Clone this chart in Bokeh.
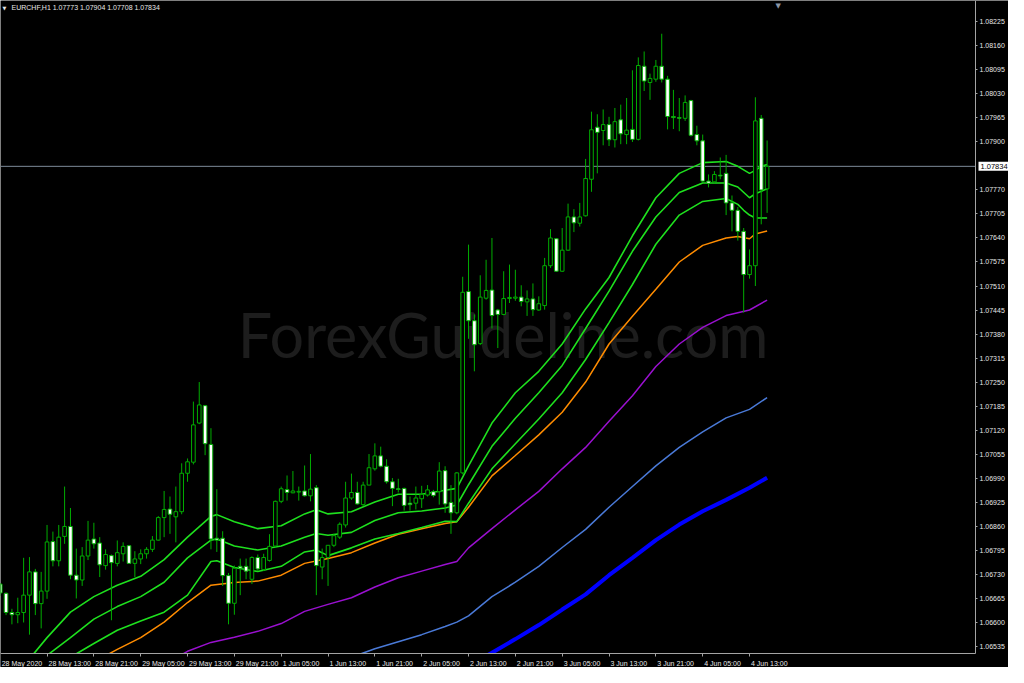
from bokeh.plotting import figure
from bokeh.models import (Range1d, FixedTicker, PrintfTickFormatter, Label, ColumnDataSource,
                          LinearAxis, BoxAnnotation)
from bokeh.embed import file_html
from bokeh.resources import INLINE

# ---------------- data (EURCHF, H1) ----------------
symbol = "EURCHF,H1"
bars = list(range(132))
opens = [1.06703, 1.06678, 1.06626, 1.06620, 1.06626, 1.06673, 1.06736, 1.06650, 1.06684, 1.06818,
         1.06766, 1.06832, 1.06859, 1.06727, 1.06714, 1.06779, 1.06825, 1.06814, 1.06753, 1.06780,
         1.06759, 1.06785, 1.06807, 1.06759, 1.06771, 1.06785, 1.06797, 1.06822, 1.06883, 1.06906,
         1.06885, 1.06899, 1.07003, 1.07033, 1.07139, 1.07186, 1.07081, 1.06827, 1.06827, 1.06726,
         1.06651, 1.06751, 1.06751, 1.06716, 1.06775, 1.06742, 1.06767, 1.06806, 1.06927, 1.06959,
         1.06950, 1.06952, 1.06955, 1.06942, 1.06964, 1.06749, 1.06775, 1.06808, 1.06830, 1.06863,
         1.06936, 1.06951, 1.06918, 1.06971, 1.07015, 1.07050, 1.07022, 1.06980, 1.06961, 1.06962,
         1.06922, 1.06922, 1.06934, 1.06944, 1.06953, 1.06953, 1.07010, 1.06924, 1.06896, 1.07004,
         1.07495, 1.07416, 1.07354, 1.07477, 1.07499, 1.07445, 1.07433, 1.07476, 1.07477, 1.07480,
         1.07467, 1.07475, 1.07445, 1.07457, 1.07565, 1.07638, 1.07550, 1.07607, 1.07697, 1.07680,
         1.07700, 1.07799, 1.07940, 1.07931, 1.07947, 1.07906, 1.07960, 1.07920, 1.07934, 1.07907,
         1.08105, 1.08061, 1.08070, 1.08105, 1.08070, 1.07969, 1.07966, 1.07964, 1.08012, 1.07920,
         1.07903, 1.07794, 1.07792, 1.07810, 1.07815, 1.07735, 1.07715, 1.07658, 1.07541, 1.07565,
         1.07964, 1.07773]
highs = [1.06706, 1.06680, 1.06636, 1.06666, 1.06774, 1.06776, 1.06744, 1.06736, 1.06863, 1.06845,
         1.06863, 1.06967, 1.06909, 1.06799, 1.06803, 1.06874, 1.06869, 1.06830, 1.06797, 1.06783,
         1.06821, 1.06816, 1.06809, 1.06792, 1.06797, 1.06803, 1.06833, 1.06887, 1.06955, 1.06940,
         1.06967, 1.07030, 1.07043, 1.07197, 1.07250, 1.07188, 1.07125, 1.06960, 1.06846, 1.06733,
         1.06753, 1.06772, 1.06772, 1.06778, 1.06783, 1.06785, 1.06838, 1.06929, 1.06967, 1.06997,
         1.07009, 1.06967, 1.07024, 1.07055, 1.06971, 1.06799, 1.06808, 1.06839, 1.06870, 1.06980,
         1.07002, 1.06980, 1.06980, 1.07055, 1.07084, 1.07075, 1.07041, 1.06990, 1.06988, 1.06964,
         1.06940, 1.06967, 1.06969, 1.06971, 1.06958, 1.07033, 1.07022, 1.06971, 1.07006, 1.07535,
         1.07622, 1.07433, 1.07539, 1.07581, 1.07640, 1.07448, 1.07550, 1.07568, 1.07554, 1.07512,
         1.07498, 1.07517, 1.07482, 1.07586, 1.07664, 1.07640, 1.07667, 1.07733, 1.07718, 1.07735,
         1.07854, 1.07982, 1.07975, 1.07988, 1.07968, 1.07992, 1.08001, 1.08019, 1.08094, 1.08129,
         1.08145, 1.08085, 1.08122, 1.08193, 1.08079, 1.08041, 1.08019, 1.08026, 1.08014, 1.07944,
         1.07920, 1.07812, 1.07821, 1.07858, 1.07865, 1.07755, 1.07724, 1.07667, 1.07609, 1.08021,
         1.07973, 1.07904]
lows = [1.06671, 1.06619, 1.06594, 1.06597, 1.06599, 1.06566, 1.06619, 1.06583, 1.06663, 1.06751,
        1.06751, 1.06812, 1.06716, 1.06664, 1.06698, 1.06768, 1.06799, 1.06722, 1.06742, 1.06605,
        1.06751, 1.06764, 1.06759, 1.06722, 1.06757, 1.06772, 1.06790, 1.06821, 1.06830, 1.06839,
        1.06816, 1.06892, 1.06980, 1.07027, 1.07136, 1.07052, 1.06797, 1.06790, 1.06698, 1.06594,
        1.06620, 1.06673, 1.06716, 1.06703, 1.06738, 1.06738, 1.06764, 1.06803, 1.06922, 1.06929,
        1.06949, 1.06929, 1.06940, 1.06927, 1.06673, 1.06716, 1.06698, 1.06803, 1.06825, 1.06856,
        1.06931, 1.06918, 1.06914, 1.06971, 1.07010, 1.07019, 1.06975, 1.06914, 1.06951, 1.06902,
        1.06902, 1.06905, 1.06909, 1.06940, 1.06938, 1.06918, 1.06896, 1.06839, 1.06892, 1.07000,
        1.07367, 1.07279, 1.07350, 1.07473, 1.07395, 1.07342, 1.07431, 1.07464, 1.07470, 1.07455,
        1.07429, 1.07429, 1.07443, 1.07446, 1.07559, 1.07548, 1.07548, 1.07605, 1.07656, 1.07671,
        1.07698, 1.07765, 1.07815, 1.07891, 1.07889, 1.07885, 1.07894, 1.07894, 1.07900, 1.07904,
        1.08038, 1.08014, 1.08063, 1.08061, 1.07934, 1.07935, 1.07929, 1.07957, 1.07915, 1.07891,
        1.07792, 1.07777, 1.07788, 1.07799, 1.07702, 1.07658, 1.07633, 1.07438, 1.07530, 1.07510,
        1.07677, 1.07708]
closes = [1.06679, 1.06626, 1.06620, 1.06626, 1.06673, 1.06736, 1.06650, 1.06684, 1.06817, 1.06766,
          1.06830, 1.06859, 1.06727, 1.06714, 1.06779, 1.06822, 1.06812, 1.06755, 1.06783, 1.06761,
          1.06788, 1.06805, 1.06759, 1.06771, 1.06785, 1.06797, 1.06822, 1.06883, 1.06905, 1.06892,
          1.06899, 1.07003, 1.07034, 1.07134, 1.07188, 1.07083, 1.06825, 1.06822, 1.06726, 1.06651,
          1.06746, 1.06746, 1.06738, 1.06775, 1.06744, 1.06775, 1.06805, 1.06927, 1.06961, 1.06951,
          1.06955, 1.06954, 1.06942, 1.06960, 1.06753, 1.06775, 1.06808, 1.06834, 1.06865, 1.06936,
          1.06951, 1.06920, 1.06971, 1.07018, 1.07050, 1.07022, 1.06980, 1.06962, 1.06959, 1.06916,
          1.06918, 1.06936, 1.06946, 1.06958, 1.06943, 1.07009, 1.06920, 1.06896, 1.07004, 1.07493,
          1.07416, 1.07351, 1.07480, 1.07498, 1.07430, 1.07433, 1.07476, 1.07479, 1.07480, 1.07468,
          1.07475, 1.07446, 1.07462, 1.07565, 1.07640, 1.07550, 1.07607, 1.07697, 1.07681, 1.07697,
          1.07801, 1.07933, 1.07926, 1.07947, 1.07906, 1.07955, 1.07922, 1.07932, 1.07907, 1.08107,
          1.08065, 1.08072, 1.08105, 1.08070, 1.07969, 1.07966, 1.07964, 1.08007, 1.07918, 1.07903,
          1.07794, 1.07788, 1.07812, 1.07808, 1.07735, 1.07715, 1.07658, 1.07541, 1.07565, 1.07957,
          1.07770, 1.07834]

# moving-average lines (bar index, price)
ma1_idx = [4, 8, 12, 16, 20, 24, 28, 32, 36, 37, 40, 44, 48, 52, 54, 56, 60, 64, 68, 72, 76, 78, 80,
           84, 88, 92, 96, 100, 104, 108, 112, 116, 120, 124, 126, 128, 129, 130, 131]
ma1_val = [1.06481, 1.06558, 1.06627, 1.06669, 1.06700, 1.06724, 1.06769, 1.06830, 1.06886, 1.06891,
           1.06872, 1.06853, 1.06861, 1.06893, 1.06904, 1.06893, 1.06899, 1.06925, 1.06946, 1.06946,
           1.06957, 1.06962, 1.07023, 1.07139, 1.07221, 1.07279, 1.07353, 1.07448, 1.07533, 1.07646,
           1.07749, 1.07815, 1.07844, 1.07847, 1.07834, 1.07815, 1.07823, 1.07834, 1.07839]
ma2_idx = [4, 8, 12, 16, 20, 24, 28, 32, 36, 37, 40, 44, 48, 52, 54, 56, 60, 64, 68, 72, 76, 78, 80,
           84, 88, 92, 96, 100, 104, 108, 112, 116, 120, 124, 126, 128, 129, 131]
ma2_val = [1.06460, 1.06510, 1.06558, 1.06608, 1.06642, 1.06669, 1.06708, 1.06774, 1.06822, 1.06825,
           1.06806, 1.06795, 1.06806, 1.06830, 1.06840, 1.06835, 1.06843, 1.06875, 1.06896, 1.06901,
           1.06909, 1.06917, 1.06972, 1.07076, 1.07152, 1.07221, 1.07295, 1.07395, 1.07496, 1.07604,
           1.07697, 1.07763, 1.07789, 1.07789, 1.07778, 1.07749, 1.07760, 1.07773]
ma3_idx = [8, 12, 16, 20, 24, 28, 32, 36, 37, 40, 44, 48, 52, 54, 56, 60, 64, 68, 72, 76, 78, 80,
           84, 88, 92, 96, 100, 104, 108, 112, 116, 120, 124, 126, 127, 128, 129, 131]
ma3_val = [1.06468, 1.06505, 1.06542, 1.06578, 1.06603, 1.06627, 1.06673, 1.06764, 1.06766, 1.06748,
           1.06737, 1.06751, 1.06790, 1.06795, 1.06780, 1.06801, 1.06825, 1.06840, 1.06856, 1.06873,
           1.06872, 1.06922, 1.07015, 1.07083, 1.07150, 1.07221, 1.07311, 1.07411, 1.07514, 1.07623,
           1.07702, 1.07739, 1.07747, 1.07731, 1.07715, 1.07702, 1.07694, 1.07694]
ma4_idx = [16, 20, 24, 28, 32, 36, 40, 44, 48, 52, 56, 60, 64, 68, 72, 76, 78, 80, 84, 88, 92, 96,
           100, 104, 108, 112, 116, 120, 124, 126, 128, 129, 131]
ma4_val = [1.06492, 1.06526, 1.06558, 1.06600, 1.06653, 1.06700, 1.06707, 1.06711, 1.06727, 1.06759,
           1.06772, 1.06788, 1.06814, 1.06838, 1.06853, 1.06867, 1.06872, 1.06911, 1.06996, 1.07051,
           1.07107, 1.07168, 1.07250, 1.07353, 1.07428, 1.07501, 1.07575, 1.07620, 1.07640, 1.07644,
           1.07638, 1.07651, 1.07659]
ma5_idx = [28, 32, 36, 40, 44, 48, 52, 56, 60, 64, 68, 72, 76, 78, 80, 84, 88, 92, 96, 100, 104,
           108, 112, 116, 120, 124, 128, 131]
ma5_val = [1.06486, 1.06521, 1.06545, 1.06559, 1.06575, 1.06596, 1.06629, 1.06648, 1.06666, 1.06695,
           1.06720, 1.06738, 1.06756, 1.06764, 1.06801, 1.06853, 1.06904, 1.06954, 1.07015, 1.07073,
           1.07144, 1.07213, 1.07292, 1.07353, 1.07398, 1.07430, 1.07445, 1.07472]
ma6_idx = [60, 64, 68, 72, 76, 78, 80, 84, 88, 92, 96, 100, 104, 108, 112, 116, 120, 124, 128, 131]
ma6_val = [1.06505, 1.06528, 1.06547, 1.06566, 1.06588, 1.06600, 1.06617, 1.06669, 1.06708, 1.06751,
           1.06802, 1.06851, 1.06911, 1.06967, 1.07023, 1.07073, 1.07115, 1.07153, 1.07176, 1.07208]
ma7_idx = [80, 84, 88, 92, 96, 100, 104, 108, 112, 116, 120, 124, 128, 131]
ma7_val = [1.06481, 1.06517, 1.06554, 1.06592, 1.06634, 1.06675, 1.06727, 1.06774, 1.06822, 1.06864,
           1.06900, 1.06931, 1.06964, 1.06991]

time_bars = [0, 8, 16, 24, 32, 40, 48, 56, 64, 72, 80, 88, 96, 104, 112, 120, 128]
time_labels = ["28 May 2020", "28 May 13:00", "28 May 21:00", "29 May 05:00", "29 May 13:00",
               "29 May 21:00", "1 Jun 05:00", "1 Jun 13:00", "1 Jun 21:00", "2 Jun 05:00",
               "2 Jun 13:00", "2 Jun 21:00", "3 Jun 05:00", "3 Jun 13:00", "3 Jun 21:00",
               "4 Jun 05:00", "4 Jun 13:00"]
price_ticks = [1.06535, 1.06600, 1.06665, 1.06730, 1.06795, 1.06860, 1.06925, 1.06990, 1.07055,
               1.07120, 1.07185, 1.07250, 1.07315, 1.07380, 1.07445, 1.07510, 1.07575, 1.07640,
               1.07705, 1.07770, 1.07900, 1.07965, 1.08030, 1.08095, 1.08160, 1.08225]

# ---------------- layout / style ----------------
W, H = 1008, 667
R_PAD, B_PAD = 33, 14                  # width of price scale / height of time scale (px)
X0, X_EDGE = 0.05, 166.6               # bar range covered by the chart area
Y_EDGE, Y1 = 1.06515, 1.08283          # price range covered by the chart area
ppb = (W - R_PAD) / (X_EDGE - X0)      # px per bar
ppp = (H - B_PAD) / (Y1 - Y_EDGE)      # px per price unit
X_FULL = X0 + W / ppb
Y_FULL = Y1 - H / ppp

FONT = "Liberation Sans"
FS = "7px"
AX = "#a4a4a4"
TXT = "#e6e6e6"
WICK = "#00ad00"
GREEN = "#1ee01e"

p = figure(width=W, height=H, output_backend="svg", toolbar_location=None,
           x_range=Range1d(X0, X_FULL), y_range=Range1d(Y_FULL, Y1),
           x_axis_location=None, y_axis_location=None,
           min_border=0, background_fill_color="black", border_fill_color="black",
           outline_line_color=None)
p.grid.visible = False

# watermark
p.add_layout(Label(x=85.9, y=1.07379, text="ForexGuideline.com", text_align="center",
                   text_baseline="middle", text_font="Lato", text_font_size="61px",
                   text_color="#1d1d1d", level="underlay"))

# bid line (stops at the price scale)
p.segment(x0=[X0], x1=[X_EDGE], y0=[closes[-1]], y1=[closes[-1]], line_color="#7d8b99",
          line_width=1)

# moving averages
p.line(ma7_idx, ma7_val, line_color="#0000ff", line_width=4)
p.line(ma6_idx, ma6_val, line_color="#4a7ad8", line_width=1.5)
p.line(ma5_idx, ma5_val, line_color="#9a10d0", line_width=1.5)
p.line(ma4_idx, ma4_val, line_color="#ff8c00", line_width=1.5)
p.line(ma3_idx, ma3_val, line_color=GREEN, line_width=1.6)
p.line(ma2_idx, ma2_val, line_color=GREEN, line_width=1.6)
p.line(ma1_idx, ma1_val, line_color=GREEN, line_width=1.6)

# candles
src = ColumnDataSource(dict(
    x=bars, h=highs, l=lows,
    top=[max(o, c) for o, c in zip(opens, closes)],
    bot=[min(o, c) for o, c in zip(opens, closes)],
    fill=["black" if c >= o else "white" for o, c in zip(opens, closes)],
))
p.segment(x0="x", y0="l", x1="x", y1="h", source=src, line_color=WICK, line_width=1)
p.vbar(x="x", width=0.62, top="top", bottom="bot", fill_color="fill", line_color=WICK,
       line_width=1, source=src)

# mask the time-scale strip below the chart area
p.add_layout(BoxAnnotation(top=Y_EDGE, fill_color="black", fill_alpha=1.0, line_color=None,
                           level="glyph"))

# price scale
ya = LinearAxis(fixed_location=X_EDGE, bounds=(Y_EDGE, Y1))
ya.ticker = FixedTicker(ticks=price_ticks)
ya.formatter = PrintfTickFormatter(format="%.5f")
ya.major_label_text_font = FONT
ya.major_label_text_font_size = FS
ya.major_label_text_color = TXT
ya.axis_line_color = AX
ya.major_tick_line_color = AX
ya.major_tick_in = 0
ya.major_tick_out = 2
ya.minor_tick_line_color = None
ya.major_label_standoff = 2
p.add_layout(ya, "right")

# time scale: labels left-aligned right after their tick mark (MT4 style)
CW = {' ': 0.278, ':': 0.278, 'M': 0.833, 'J': 0.5, 'a': 0.556, 'y': 0.5, 'u': 0.556, 'n': 0.556}
def text_w(s):
    return sum(CW.get(ch, 0.556) for ch in s) * 7.0
centers = [round(b + (1.5 + text_w(t) / 2.0) / ppb, 4) for b, t in zip(time_bars, time_labels)]
xa = LinearAxis(fixed_location=Y_EDGE, bounds=(X0, X_EDGE))
xa.ticker = FixedTicker(ticks=centers, minor_ticks=time_bars)
xa.major_label_overrides = {c: t for c, t in zip(centers, time_labels)}
xa.major_tick_in = 0
xa.major_tick_out = 0
xa.minor_tick_in = 0
xa.minor_tick_out = 3
xa.minor_tick_line_color = AX
xa.major_tick_line_color = None
xa.axis_line_color = AX
xa.major_label_standoff = 3
xa.major_label_text_font = FONT
xa.major_label_text_font_size = FS
xa.major_label_text_color = TXT
p.add_layout(xa, "below")

# header, price box, shift marker
header = "%s  %.5f %.5f %.5f %.5f" % (symbol, opens[-1], highs[-1], lows[-1], closes[-1])
p.add_layout(Label(x=X0, y=Y1, x_offset=11, y_offset=-7, text=header, text_font=FONT,
                   text_font_size=FS, text_color=TXT, text_baseline="middle"))
p.add_layout(Label(x=X0, y=Y1, x_offset=2, y_offset=-7, text="\u25bc", text_font="DejaVu Sans",
                   text_font_size="5px", text_color=TXT, text_baseline="middle"))
p.add_layout(Label(x=X_EDGE, y=closes[-1], x_offset=3, text="%.5f" % closes[-1],
                   text_font=FONT, text_font_size="7.5px", text_color="black",
                   text_baseline="middle", background_fill_color="white", padding=2))
p.add_layout(Label(x=132.9, y=Y1, y_offset=-1, text="\u25bc", text_font="DejaVu Sans",
                   text_font_size="7px", text_color="#8a96a6", text_align="center",
                   text_baseline="top"))

open("out.html", "w").write(file_html(p, INLINE))
